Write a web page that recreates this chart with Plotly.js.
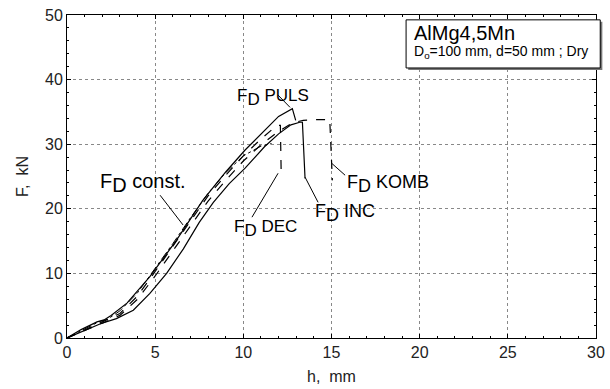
<!DOCTYPE html>
<html><head><meta charset="utf-8">
<script src="https://cdn.plot.ly/plotly-3.0.1.min.js"></script>
<style>html,body{margin:0;padding:0;background:#fff}#c{width:610px;height:389px}</style>
</head><body><div id="c"></div>
<script>
// h (mm) and F (kN) for each regime
const hPULS = [0, 0.8, 1.7, 2.1, 2.5, 3.4, 4.7, 6.2, 7.7, 9.0, 10.1, 11.0, 12.0, 12.78, 12.97];
const fPULS = [0, 1.3, 2.5, 2.8, 3.5, 5.4, 9.5, 15.1, 21.3, 25.7, 29.1, 31.6, 34.3, 35.5, 33.7];
const hConst = [0, 1.0, 1.8, 2.3, 3.0, 4.0, 5.0, 6.0, 7.0, 8.0, 9.0, 10.0, 11.0, 11.6];
const fConst = [0, 1.4, 2.5, 2.9, 4.2, 7.0, 10.8, 14.6, 18.6, 22.4, 25.6, 28.2, 29.7, 30.1];
const hINC = [0, 1.0, 1.9, 2.8, 3.76, 4.7, 5.65, 6.6, 7.5, 8.3, 9.2, 10.1, 11.2, 12.0, 12.7, 13.2, 13.35, 13.5];
const fINC = [0, 1.1, 2.2, 3.0, 4.3, 6.9, 10.0, 13.8, 17.9, 21.0, 23.9, 26.3, 29.6, 31.6, 33.0, 33.4, 33.4, 24.7];
const hDEC = [0, 1.0, 2.0, 3.0, 4.0, 5.0, 6.0, 7.0, 8.0, 9.0, 10.0, 11.0, 11.6, 12.0, 12.1, 12.15];
const fDEC = [0, 1.2, 2.5, 3.8, 6.5, 10.3, 14.2, 18.2, 22.0, 25.2, 28.2, 30.8, 32.2, 32.9, 32.9, 24.9];
const hKOMB = [0, 1.0, 2.0, 3.0, 4.0, 5.0, 6.0, 7.0, 8.0, 9.0, 10.0, 11.0, 12.0, 12.8, 13.4, 14.0, 14.9, 15.05];
const fKOMB = [0, 1.1, 2.3, 3.5, 6.0, 9.6, 13.5, 17.5, 21.2, 24.4, 27.4, 29.9, 32.0, 33.3, 33.7, 33.8, 33.8, 24.4];

const xTicks = [0, 5, 10, 15, 20, 25, 30];
const yTicks = [0, 10, 20, 30, 40, 50];
const xTitle = 'h,  mm';
const yTitle = 'F,  kN';
const boxLine1 = 'AlMg4,5Mn';
const boxLine2 = 'D<sub>o</sub>=100 mm, d=50 mm ; Dry';

function tr(x, y, dash, w) {
  return {x: x, y: y, type: 'scatter', mode: 'lines', hoverinfo: 'skip',
          line: {color: '#000', width: w || 1.2, dash: dash}};
}
const data = [
  tr(hConst, fConst, 'dashdot', 1),
  tr(hDEC, fDEC, 'dash', 1.2),
  tr(hKOMB, fKOMB, 'dash', 1.2),
  tr(hINC, fINC, 'solid', 1.2),
  tr(hPULS, fPULS, 'solid', 1.2)
];

const F = 'Liberation Sans, Arial, sans-serif';
function fd(rest, size) {
  return 'F<sub><span style="font-size:' + size + 'px">D</span></sub>&nbsp;' + rest;
}
function lab(x, y, t, size) {
  return {x: x, y: y, xref: 'x', yref: 'y', xanchor: 'left', yanchor: 'middle', showarrow: false,
          text: fd(t, size), font: {family: F, size: size, color: '#000'}};
}
function lead(x0, y0, x1, y1) {
  return {type: 'line', xref: 'x', yref: 'y', x0: x0, y0: y0, x1: x1, y1: y1, line: {color: '#000', width: 1}};
}
const layout = {
  width: 610, height: 389,
  margin: {l: 67, r: 14, t: 15, b: 51},
  paper_bgcolor: '#fff', plot_bgcolor: '#fff',
  showlegend: false,
  font: {family: F, color: '#000', size: 15},
  xaxis: {range: [0, 30], tickvals: xTicks, ticks: 'inside', ticklen: 4, tickcolor: '#000',
          showline: true, linecolor: '#000', linewidth: 1, mirror: 'ticks',
          showgrid: true, gridcolor: '#888', griddash: 'dot', gridwidth: 1, zeroline: false,
          minor: {dtick: 1, ticks: 'inside', ticklen: 2, tickcolor: '#000', showgrid: false},
          tickfont: {family: F, size: 16, color: '#222'},
          title: {text: xTitle, font: {family: F, size: 16, color: '#222'}, standoff: 10}},
  yaxis: {range: [0, 50], tickvals: yTicks, ticks: 'inside', ticklen: 4, tickcolor: '#000',
          showline: true, linecolor: '#000', linewidth: 1, mirror: 'ticks',
          showgrid: true, gridcolor: '#888', griddash: 'dot', gridwidth: 1, zeroline: false,
          minor: {dtick: 2, ticks: 'inside', ticklen: 2, tickcolor: '#000', showgrid: false},
          tickfont: {family: F, size: 16, color: '#222'},
          title: {text: yTitle, font: {family: F, size: 16, color: '#222'}, standoff: 12}},
  shapes: [
    {type: 'rect', xref: 'paper', yref: 'paper', x0: 0.645, x1: 1.012, y0: 0.830, y1: 0.979,
     fillcolor: '#777', line: {width: 0}},
    {type: 'rect', xref: 'paper', yref: 'paper', x0: 0.641, x1: 1.008, y0: 0.836, y1: 0.985,
     fillcolor: '#fff', line: {color: '#000', width: 1}},
    lead(11.97, 37.6, 12.65, 35.7),
    lead(5.28, 22.1, 6.58, 17.5),
    lead(10.49, 18.7, 11.97, 25.5),
    lead(13.5, 24.9, 14.24, 21.0),
    lead(15.03, 27.0, 15.77, 25.2)
  ],
  annotations: [
    lab(9.5, 37.3, 'PULS', 17),
    lab(1.75, 24.0, 'const.', 20),
    lab(9.35, 17.0, 'DEC', 17),
    lab(13.95, 19.3, 'INC', 18),
    lab(15.75, 23.8, 'KOMB', 18),
    {x: 0.652, y: 0.944, xref: 'paper', yref: 'paper', xanchor: 'left', yanchor: 'middle', showarrow: false,
     text: boxLine1, font: {family: F, size: 20, color: '#000'}},
    {x: 0.652, y: 0.885, xref: 'paper', yref: 'paper', xanchor: 'left', yanchor: 'middle', showarrow: false,
     text: boxLine2, font: {family: F, size: 14, color: '#000'}}
  ]
};
Plotly.newPlot('c', data, layout, {staticPlot: true, displayModeBar: false});
</script></body></html>
